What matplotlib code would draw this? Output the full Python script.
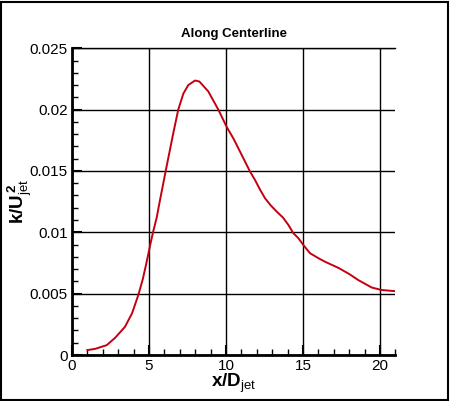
import matplotlib
matplotlib.use("Agg")
import matplotlib.pyplot as plt
from matplotlib.ticker import MultipleLocator
from matplotlib.patches import Rectangle

x_vals = [1.0, 1.5, 2.25, 2.8, 3.44, 3.9, 4.31, 4.6, 4.85, 5.1, 5.28, 5.5, 5.71,
          6.1, 6.58, 6.9, 7.23, 7.55, 7.99, 8.27, 8.85, 9.5, 10.04, 10.5, 10.9,
          11.56, 11.88, 12.2, 12.53, 12.9, 13.29, 13.7, 14.05, 14.37, 14.7, 15.02,
          15.45, 16.0, 16.43, 17.3, 18.0, 18.6, 19.46, 20.1, 21.0]
k_vals = [0.0004, 0.0005, 0.0008, 0.0014, 0.0023, 0.0034, 0.0049, 0.0062, 0.0076,
          0.0091, 0.0101, 0.0112, 0.0126, 0.0151, 0.0181, 0.0200, 0.0213, 0.0220,
          0.02237, 0.02229, 0.02148, 0.0200, 0.0186, 0.0176, 0.0166, 0.01495,
          0.01427, 0.0135, 0.01278, 0.0122, 0.01169, 0.0112, 0.0106, 0.00993,
          0.00952, 0.00897, 0.0083, 0.00789, 0.0076, 0.0071, 0.0066, 0.0061,
          0.0055, 0.0053, 0.0052]
x_ticks = [0, 5, 10, 15, 20]
y_ticks = [0, 0.005, 0.01, 0.015, 0.02, 0.025]
y_tick_labels = ["0", "0.005", "0.01", "0.015", "0.02", "0.025"]

plt.rcParams['font.family'] = ['Liberation Sans', 'DejaVu Sans']
plt.rcParams['mathtext.fontset'] = 'custom'
plt.rcParams['mathtext.rm'] = 'Liberation Sans'
plt.rcParams['mathtext.bf'] = 'Liberation Sans:bold'
plt.rcParams['mathtext.it'] = 'Liberation Sans:italic'

fig = plt.figure(figsize=(4.5, 4.01), dpi=100)
ax = fig.add_axes([0.16, 0.1147, 0.7187, 0.765])

ax.plot(x_vals, k_vals, color='#c40010', lw=1.4, zorder=3)

ax.set_xlim(0, 21)
ax.set_ylim(0, 0.025)
ax.set_xticks(x_ticks)
ax.set_xticklabels([str(t) for t in x_ticks])
ax.set_yticks(y_ticks)
ax.set_yticklabels(y_tick_labels)
ax.xaxis.set_minor_locator(MultipleLocator(1))
ax.yaxis.set_minor_locator(MultipleLocator(0.001))
ax.grid(True, which='major', color='black', lw=1.0)
ax.tick_params(which='major', direction='in', length=7, width=1.5, labelsize=11, pad=3)
ax.tick_params(which='minor', direction='in', length=4, width=1.0)
ax.tick_params(top=False, right=False)

ax.spines['right'].set_visible(False)
ax.spines['top'].set_linewidth(1.0)
ax.spines['left'].set_linewidth(2.0)
ax.spines['bottom'].set_linewidth(2.0)

ax.set_title('Along Centerline', fontsize=9.5, fontweight='bold', pad=8)
ax.set_xlabel(r'$\mathbf{x/D}_{\mathrm{jet}}$', fontsize=13.5, labelpad=-1)
ax.set_ylabel(r'$\mathbf{k/U}_{\mathrm{jet}}^{\,\mathbf{2}}$', fontsize=13.5)
ax.yaxis.set_label_coords(-0.118, 0.5)

fig.patches.append(Rectangle((0.002, 0.002), 0.994, 0.994, transform=fig.transFigure,
                             fill=False, edgecolor='black', lw=1.5))

fig.savefig('out.png', dpi=100)
